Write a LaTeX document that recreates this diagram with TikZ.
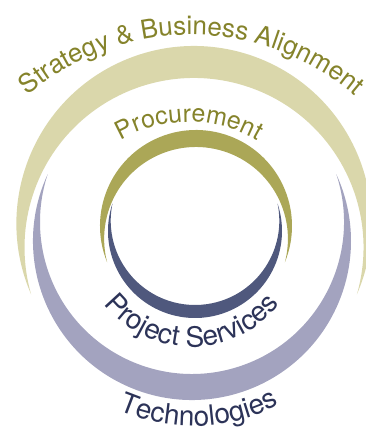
\documentclass[tikz,border=0pt]{standalone}
\usepackage{fontspec}
\setmainfont{TeX Gyre Heros}
\usetikzlibrary{decorations.text}

\definecolor{sand}{HTML}{DAD7AB}
\definecolor{moss}{HTML}{ABA757}
\definecolor{slate}{HTML}{4F587D}
\definecolor{lavender}{HTML}{A3A3BF}
\definecolor{mosstext}{HTML}{85832B}
\definecolor{navytext}{HTML}{2C3358}

\begin{document}
\begin{tikzpicture}[x=1pt, y=1pt]
	\tikzstyle{ringtext} = [decorate, decoration={text along path, text align=center}]
	\useasboundingbox (0,0) rectangle (365,430);
	
	% strategy & business alignment
	\fill [sand] ([shift={(203.48:177.6pt)}]194,206.4) arc [start angle=203.48, end angle=-23.48, radius=177.6pt]
		arc [start angle=-16.05, end angle=196.05, radius=169.5pt] -- cycle;
	
	% technologies
	\fill [lavender] ([shift={(155.16:159pt)}]192,189) arc [start angle=155.16, end angle=384.84, radius=159pt]
		arc [start angle=18.32, end angle=-198.32, radius=152pt] -- cycle;
	
	% procurement
	\fill [moss] ([shift={(202.22:96pt)}]196,204) arc [start angle=202.22, end angle=-22.22, radius=96pt]
		arc [start angle=-14.76, end angle=194.76, radius=91.9pt] -- cycle;
	
	% project services
	\fill [slate] ([shift={(161.51:87pt)}]195,199) arc [start angle=161.51, end angle=378.49, radius=87pt]
		arc [start angle=11.84, end angle=-191.84, radius=84.3pt] -- cycle;
	
	\path [ringtext, decoration={text color=mosstext, text={|\fontsize{26}{26}\selectfont|Strategy {\&} Business Alignment}}]
		([shift={(150:251.5pt)}]191.5,143.5) arc [start angle=150, end angle=30, radius=251.5pt];
	\path [ringtext, decoration={text color=mosstext, text={|\fontsize{25}{25}\selectfont|Procurement}}]
		([shift={(150:136pt)}]189,172) arc [start angle=150, end angle=30, radius=136pt];
	\path [ringtext, decoration={text color=navytext, text={|\fontsize{28}{28}\selectfont|Project Services}}]
		([shift={(190:111pt)}]192,194) arc [start angle=190, end angle=350, radius=111pt];
	\path [ringtext, decoration={text color=navytext, text={|\fontsize{28}{28}\selectfont|Technologies}}]
		([shift={(222:187pt)}]193,191) arc [start angle=222, end angle=322, radius=187pt];
\end{tikzpicture}
\end{document}
